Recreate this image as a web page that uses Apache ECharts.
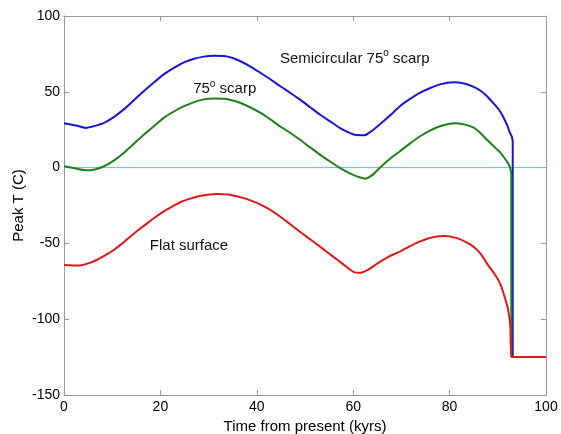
<!DOCTYPE html>
<html>
<head>
<meta charset="utf-8">
<script src="https://cdn.jsdelivr.net/npm/echarts@6/dist/echarts.min.js"></script>
<style>
html,body{margin:0;padding:0;background:#fff;}
#c{width:561px;height:434px;}
</style>
</head>
<body>
<div id="c"></div>
<script>
// ---- Data ----
var xTicks = [0, 20, 40, 60, 80, 100];
var yTicks = [-150, -100, -50, 0, 50, 100];

var blueX = [0, 2.2, 4.5, 6.4, 8.3, 10.4, 12.4, 14.5, 16.6, 18.7, 20.7, 22.8, 24.9, 27, 29, 31.1, 33.2, 35, 36.5, 38.6, 40.7, 42.8, 44.8, 46.9, 48.9, 51, 53.1, 55.2, 57.2, 59, 60.6, 62.4, 64, 65.5, 67.5, 69.7, 71.8, 73.9, 76, 78, 80.8, 83, 84.9, 86.5, 87.7, 89.5, 90.5, 91.1, 92, 92.5, 92.9, 93.1, 93.1];
var blueY = [29.3, 28, 26.2, 27.5, 29.5, 33.5, 38.4, 44.5, 50.5, 56.3, 61.5, 65.8, 69.4, 71.8, 73.2, 73.7, 73.6, 72.3, 70.3, 66.8, 62.6, 58.3, 53.8, 49.4, 45, 40, 35, 30.5, 26.2, 23.2, 21.5, 21.4, 24.5, 28.4, 34, 40.5, 45.3, 49.4, 52.5, 54.9, 56.3, 55.5, 53.4, 50.5, 47.2, 41, 37, 33.5, 27.5, 23, 20.5, 17, -125];

var greenX = [0, 2.2, 4.5, 6.4, 8.3, 10.4, 12.4, 14.5, 16.6, 18.7, 20.7, 22.8, 24.9, 27, 29, 31.1, 33.2, 35, 36.5, 38.6, 40.7, 42.8, 44.8, 46.9, 48.9, 51, 53.1, 55.2, 57.2, 59.3, 61.3, 62.5, 64, 65.5, 67.5, 69.7, 71.8, 73.9, 76, 78, 81, 83, 84.9, 86.5, 87.7, 89.5, 90.5, 91.1, 92, 92.5, 92.8, 92.8];
var greenY = [0.9, -0.4, -1.8, -1.2, 0.9, 4.8, 9.7, 15.8, 21.8, 27.5, 32.8, 37, 40.5, 43.2, 45, 45.6, 45.4, 44.3, 42.8, 39.8, 36.2, 31.8, 27.3, 23, 18.5, 13.5, 8.6, 4, -0.2, -3.8, -6.4, -7.3, -4.8, -0.2, 5.5, 10.8, 16, 20.7, 24.5, 27.3, 29.3, 28.5, 26.5, 22.5, 18.5, 13, 10, 7.5, 3.5, 0.5, -5, -125];

var redX = [0, 3.1, 5, 6.9, 8.6, 10.4, 12.1, 13.8, 15.5, 17.3, 19, 20.7, 22.5, 24.2, 26, 27.7, 29.8, 31.8, 34, 36, 38, 40.1, 42.2, 44.3, 46.3, 48.4, 50.5, 52.6, 54.7, 56.7, 58.5, 60.2, 61.5, 63, 65.6, 67.5, 69.7, 71.8, 73.9, 76.5, 79, 81.5, 83.3, 84.9, 86.5, 87.7, 89.5, 90.5, 91.1, 92.1, 92.6, 92.9, 100];
var redY = [-64.2, -64.6, -63.2, -60.8, -57.8, -54.2, -50, -45.4, -41, -36.6, -32.6, -28.9, -25.6, -22.7, -20.6, -19, -17.9, -17.4, -17.7, -19, -20.8, -23.4, -26.8, -31.1, -35.8, -41, -46, -50.9, -56, -60.8, -65.2, -69, -69.4, -67.5, -62, -58.5, -55.4, -51.8, -48.7, -46, -45.2, -46.5, -49, -52, -57, -63, -71, -76.5, -82, -93, -105, -125, -125];

var zeroX = [0, 100];
var zeroY = [0, 0];

var labelTexts = ['Semicircular 75{sup|o} scarp', '75{sup|o} scarp', 'Flat surface'];
var labelX = [44.8, 26.8, 17.8];
var labelY = [72, 52, -51.5];

function pairs(xs, ys) { return xs.map(function (x, i) { return [x, ys[i]]; }); }

var FONT = 'Liberation Sans, Arial, sans-serif';
var axisGray = '#999999';

var chart = echarts.init(document.getElementById('c'), null, {renderer: 'canvas'});

function mkLine() { return {show: true, onZero: false, lineStyle: {color: axisGray, width: 1}}; }
function mkTick() { return {show: true, inside: true, length: 5, lineStyle: {color: axisGray}}; }

var option = {
  animation: false,
  backgroundColor: '#ffffff',
  grid: {left: 64, right: 15, top: 16, bottom: 39, containLabel: false, outerBoundsMode: 'none'},
  xAxis: [
    {
      type: 'value', min: xTicks[0], max: xTicks[xTicks.length - 1], interval: 20,
      position: 'bottom',
      name: 'Time from present (kyrs)', nameLocation: 'middle', nameGap: 22,
      nameTextStyle: {fontFamily: FONT, fontSize: 15, color: '#000'},
      axisLine: mkLine(), axisTick: mkTick(), splitLine: {show: false},
      axisLabel: {fontFamily: FONT, fontSize: 14, color: '#000', margin: 5}
    },
    {
      type: 'value', min: xTicks[0], max: xTicks[xTicks.length - 1], interval: 20,
      position: 'top',
      axisLine: mkLine(), axisTick: mkTick(), splitLine: {show: false},
      axisLabel: {show: false}
    }
  ],
  yAxis: [
    {
      type: 'value', min: yTicks[0], max: yTicks[yTicks.length - 1], interval: 50,
      position: 'left',
      name: 'Peak T (C)', nameLocation: 'middle', nameGap: 38, nameRotate: 90,
      nameMoveOverlap: false,
      nameTextStyle: {fontFamily: FONT, fontSize: 15, color: '#000'},
      axisLine: mkLine(), axisTick: mkTick(), splitLine: {show: false},
      axisLabel: {fontFamily: FONT, fontSize: 14, color: '#000', margin: 4}
    },
    {
      type: 'value', min: yTicks[0], max: yTicks[yTicks.length - 1], interval: 50,
      position: 'right',
      axisLine: mkLine(), axisTick: mkTick(), splitLine: {show: false},
      axisLabel: {show: false}
    }
  ],
  series: [
    {type: 'line', data: pairs(zeroX, zeroY), showSymbol: false, symbol: 'none',
     lineStyle: {color: '#4fcfbf', width: 1}, z: 5},
    {type: 'line', data: pairs(blueX, blueY), showSymbol: false, symbol: 'none', smooth: 0.2,
     lineStyle: {color: '#1616d6', width: 2}, z: 6},
    {type: 'line', data: pairs(greenX, greenY), showSymbol: false, symbol: 'none', smooth: 0.2,
     lineStyle: {color: '#1f7f1f', width: 2}, z: 7},
    {type: 'line', data: pairs(redX, redY), showSymbol: false, symbol: 'none', smooth: 0.2,
     lineStyle: {color: '#e01818', width: 2}, z: 8}
  ]
};
chart.setOption(option);

var graphics = labelTexts.map(function (t, i) {
  var p = chart.convertToPixel({xAxisIndex: 0, yAxisIndex: 0}, [labelX[i], labelY[i]]);
  return {
    type: 'text', x: p[0], y: p[1], z: 10,
    style: {
      text: t, fontFamily: FONT, fontSize: 15, fill: '#111',
      verticalAlign: 'middle', align: 'left',
      rich: {sup: {fontSize: 10, fontFamily: FONT, fill: '#111', verticalAlign: 'bottom', padding: [0, 0, 10, 0]}}
    }
  };
});
chart.setOption({graphic: graphics});
</script>
</body>
</html>
